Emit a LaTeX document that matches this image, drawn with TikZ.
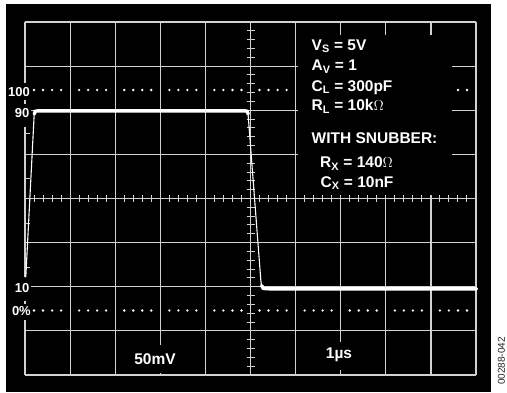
\documentclass[tikz,border=0pt]{standalone}
\usepackage{fontspec}
\setmainfont{Liberation Sans}
\usepackage{tikz}
\usetikzlibrary{positioning}

\definecolor{gridgray}{gray}{0.82}

\begin{document}
\begin{tikzpicture}[x=1pt,y=-1pt,
  gridline/.style={draw=gridgray,line width=1.2pt},
  tick/.style={draw=gridgray,line width=1pt},
  mask/.style={fill=black},
  trace/.style={draw=white,line width=1.1pt,line cap=round},
  flat/.style={draw=white,line width=3.4pt,line cap=round},
  dotmark/.style={fill=white},
  lbl/.style={text=white,font=\fontsize{13}{13}\selectfont\bfseries,inner sep=0pt},
  info/.style={text=white,font=\fontsize{15.5}{15.5}\selectfont\bfseries,inner sep=0pt,anchor=base west}]
\useasboundingbox (0,0) rectangle (507,392);
\fill[white] (0,0) rectangle (507,392);
\fill[black] (6,4) rectangle (491,392);
% grid
\foreach \i in {0,...,10}
  \draw[gridline] ({25+45.1*\i},22) -- ({25+45.1*\i},375);
\foreach \j in {0,...,8}
  \draw[gridline] (25,{22+44.125*\j}) -- (476,{22+44.125*\j});
% ticks on the centre axes
\foreach \k in {1,...,49}
  \draw[tick] ({25+9.02*\k},195) -- ({25+9.02*\k},202);
\foreach \k in {1,...,39}
  \draw[tick] (246.5,{22+8.825*\k}) -- (254.5,{22+8.825*\k});
% ticks on the left edge
\foreach \t in {133,178,223,267}
  \draw[tick] (25,\t) -- (30,\t);
% gaps for text
\fill[mask] (297.5,35) rectangle (452,194.5);
\fill[mask] (21,83) rectangle (31,127);
\fill[mask] (21,277) rectangle (31,320);
\fill[mask] (156,345) rectangle (165,373);
\fill[mask] (336,342) rectangle (345,370);
\draw[tick,line width=1.6pt] (25,100) -- (25,103.5);
\draw[tick,line width=1.6pt] (25,300.5) -- (25,304);
% 100% and 0% dotted lines
\foreach \d in {0,...,5}
  \foreach \s in {1,...,4}
    \fill[dotmark] ({25+45.1*\d+9.02*\s},90) circle (1.3);
\foreach \s in {3,4}
  \fill[dotmark] ({430.9+9.02*\s},90) circle (1.3);
\foreach \d in {0,...,9}
  \foreach \s in {1,...,4}
    \fill[dotmark] ({25+45.1*\d+9.02*\s},310.5) circle (1.3);
% trace
\coordinate (rise0) at (25.8,277);
\coordinate (rise1) at (34,118);
\coordinate (high0) at (40,110.8);
\coordinate (high1) at (244,110.8);
\coordinate (fall0) at (248.3,117);
\coordinate (fall1) at (260.8,280);
\coordinate (low0) at (269,288.8);
\coordinate (low1) at (476.5,288.8);
\draw[trace] (rise0) -- (rise1) .. controls (34.4,111) .. (high0) -- (high1)
  .. controls (247.8,111) .. (fall0) -- (fall1) .. controls (261.8,288.5) .. (low0) -- (low1);
\draw[flat] (34.3,114) .. controls (34.6,111) .. (high0) -- (high1) .. controls (247.6,111) .. (248.2,114);
\draw[flat] (261.6,285.5) .. controls (262.5,288.6) .. (low0) -- (low1);
% labels
\node[lbl,anchor=east] (p100) at (30,92.5) {100};
\node[lbl,anchor=east] (p90) at (29.5,113) {90};
\node[lbl,anchor=east] (p10) at (29.5,288.5) {10};
\node[lbl,anchor=east] (p0) at (31,311.5) {0\%};
\node[lbl,font=\fontsize{15.5}{15.5}\selectfont\bfseries] (volt) at (155,359.5) {50mV};
\node[lbl,font=\fontsize{15.5}{15.5}\selectfont\bfseries] (time) at (339,355) {1µs};
\node[info] (vs) at (311.5,50) {V\textsubscript{S} = 5V};
\node[info] (av) at (311.5,70.5) {A\textsubscript{V} = 1};
\node[info] (cl) at (311.5,91) {C\textsubscript{L} = 300pF};
\node[info] (rl) at (311.5,110.5) {R\textsubscript{L} = 10k$\Omega$};
\node[info] (snub) at (311.5,143.5) {WITH SNUBBER:};
\node[info] (rx) at (320,167.5) {R\textsubscript{X} = 140$\Omega$};
\node[info] (cx) at (320.5,187) {C\textsubscript{X} = 10nF};
\node[font=\fontsize{10}{10}\selectfont,text=black!85,rotate=90,inner sep=0pt] (code) at (501.5,361) {00288-042};
\end{tikzpicture}
\end{document}
